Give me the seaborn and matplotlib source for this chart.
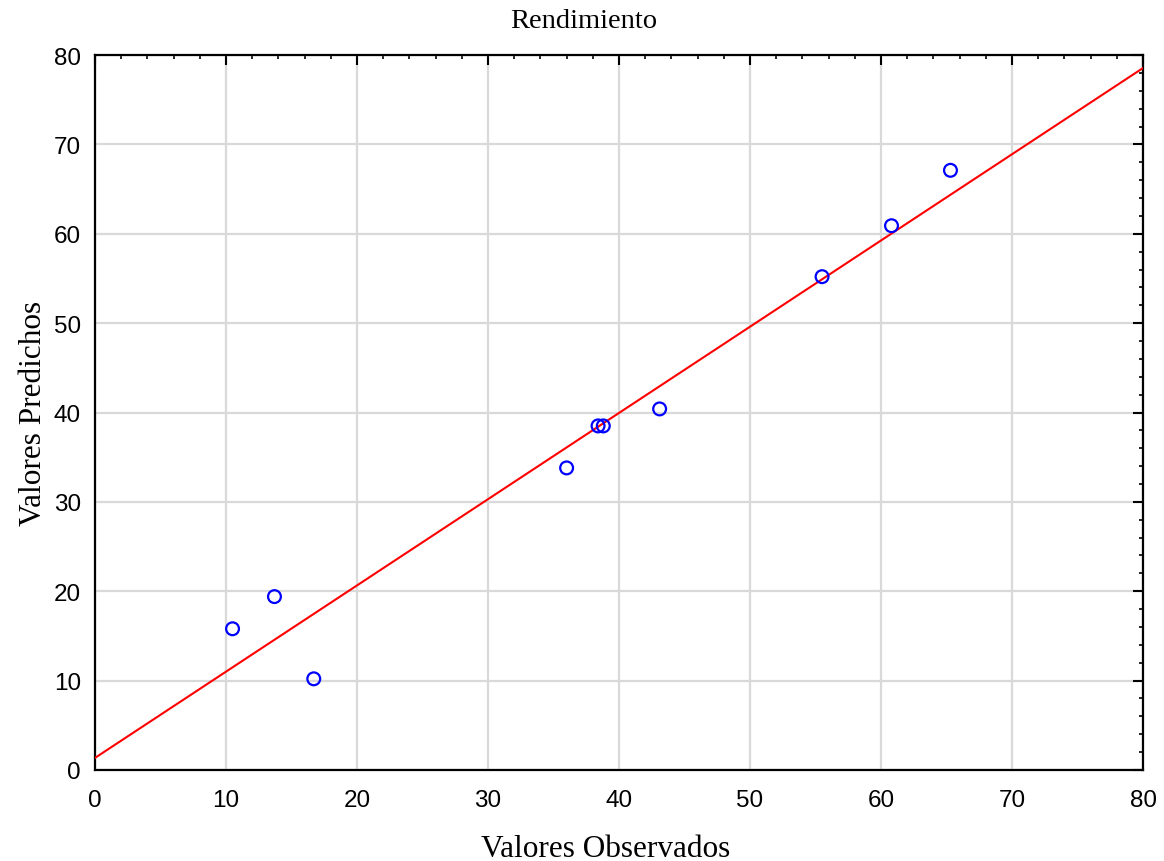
import seaborn as sns
import matplotlib.pyplot as plt
import pandas as pd
from matplotlib.ticker import MultipleLocator

observados = [10.5, 13.7, 16.7, 36.0, 38.4, 38.8, 43.1, 55.5, 60.8, 65.3]
predichos = [15.8, 19.4, 10.2, 33.8, 38.5, 38.5, 40.4, 55.2, 60.9, 67.1]
linea_x = [0, 80]
linea_y = [1.35, 78.55]

df = pd.DataFrame({"obs": observados, "pred": predichos})
df_line = pd.DataFrame({"x": linea_x, "y": linea_y})

sns.set_style("white")
fig = plt.figure(figsize=(11.64, 8.62), dpi=100)
ax = fig.add_axes([0.0816, 0.1056, 0.9004, 0.8294])

sns.lineplot(data=df_line, x="x", y="y", color="red", linewidth=1.5, ax=ax, zorder=3)
sns.scatterplot(data=df, x="obs", y="pred", ax=ax, marker="o", s=85,
                facecolors="none", edgecolor="blue", linewidth=1.6, zorder=4)

ax.set_xlim(0, 80)
ax.set_ylim(0, 80)
ax.xaxis.set_major_locator(MultipleLocator(10))
ax.yaxis.set_major_locator(MultipleLocator(10))
ax.xaxis.set_minor_locator(MultipleLocator(2))
ax.yaxis.set_minor_locator(MultipleLocator(2))
ax.grid(True, which="major", color="#d9d9d9", linewidth=1.6)
ax.set_axisbelow(True)
ax.tick_params(which="major", direction="in", length=7, width=1.5,
               top=True, right=True, labelsize=17.5, pad=10,
               colors="black")
ax.tick_params(axis="x", which="major", pad=14)
ax.tick_params(which="minor", direction="in", length=3, width=1.2,
               top=True, right=True, colors="black")
for lab in ax.get_xticklabels() + ax.get_yticklabels():
    lab.set_fontfamily("Liberation Sans")
for sp in ax.spines.values():
    sp.set_color("black")
    sp.set_linewidth(1.6)

ax.set_title("Rendimiento", fontfamily="Liberation Serif", fontsize=20.5,
             pad=20, color="black", x=0.466)
ax.set_xlabel("Valores Observados", fontfamily="Liberation Serif", fontsize=22.5,
              labelpad=16, color="black", x=0.487)
ax.set_ylabel("Valores Predichos", fontfamily="Liberation Serif", fontsize=22.5,
              labelpad=4, color="black")
ax.title.set_y(1.0)
ax.title.set_position((0.466, 1.0))

fig.savefig("out.png", dpi=100)
